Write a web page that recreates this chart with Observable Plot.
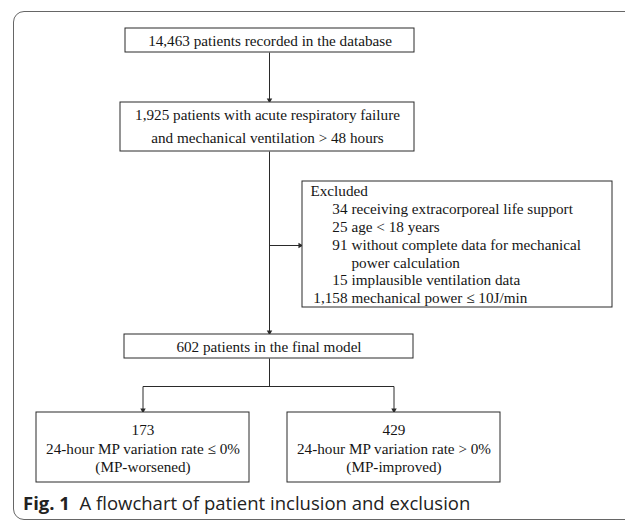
<!DOCTYPE html>
<html>
<head>
<meta charset="utf-8">
<script src="https://cdn.jsdelivr.net/npm/d3@7"></script>
<script src="https://cdn.jsdelivr.net/npm/@observablehq/plot@0.6"></script>
<style>
  html, body { margin: 0; padding: 0; background: #fff; }
  body { width: 625px; height: 520px; position: relative; overflow: hidden; }
  #frame { position: absolute; left: 13px; top: 11px; width: 700px; height: 507px;
           border: 1.5px solid #666; border-radius: 11px; pointer-events: none; }
  #chart { position: absolute; left: 0; top: 0; }
  #caption { position: absolute; left: 23px; top: 490px; font-family: "Open Sans", sans-serif;
             font-size: 18.5px; line-height: 25px; color: #222; white-space: nowrap; }
  #caption b { font-weight: 700; }
</style>
</head>
<body>
<div id="frame"></div>
<div id="chart"></div>
<div id="caption"><b>Fig. 1</b>&nbsp; A flowchart of patient inclusion and exclusion</div>
<script>
// ---------- data ----------
const recordedPatients = 14463;
const arfPatients = 1925;
const exclusionCounts = [34, 25, 91, 15, 1158];
const exclusionLabels = [
  ["receiving extracorporeal life support"],
  ["age < 18 years"],
  ["without complete data for mechanical", "power calculation"],
  ["implausible ventilation data"],
  ["mechanical power ≤ 10J/min"]
];
const finalPatients = 602;
const groupCounts = [173, 429];
const groupRates = ["24-hour MP variation rate ≤ 0%", "24-hour MP variation rate > 0%"];
const groupNames = ["(MP-worsened)", "(MP-improved)"];

// ---------- layout (pixel space of the 625-wide diagram) ----------
const fmt = d3.format(",");
const L = {
  top:    {x1: 125, x2: 414, y1: 28,  y2: 52},
  second: {x1: 120, x2: 414, y1: 102, y2: 151},
  excl:   {x1: 302, x2: 612, y1: 181, y2: 307},
  final:  {x1: 124, x2: 413, y1: 334, y2: 358},
  groups: [{x1: 36, x2: 249, y1: 412, y2: 482}, {x1: 287, x2: 500, y1: 412, y2: 482}],
  spineX: 269, branchY: 386, exclArrowY: 245,
  exclTitleY: 191, exclLine: 17.8, exclNumX: 347, exclTextX: 351, exclTitleX: 310
};
const cx = b => (b.x1 + b.x2) / 2;

const boxes = [L.top, L.second, L.excl, L.final, ...L.groups];

const links = [
  {x1: L.spineX, y1: L.top.y2, x2: L.spineX, y2: L.second.y1},
  {x1: L.spineX, y1: L.second.y2, x2: L.spineX, y2: L.final.y1},
  {x1: L.spineX, y1: L.exclArrowY, x2: L.excl.x1, y2: L.exclArrowY},
  {x1: L.spineX, y1: L.final.y2, x2: L.spineX, y2: L.branchY},
  {x1: cx(L.groups[0]), y1: L.branchY, x2: cx(L.groups[1]), y2: L.branchY},
  ...L.groups.map(g => ({x1: cx(g), y1: L.branchY, x2: cx(g), y2: g.y1}))
];
const heads = [
  {x: L.spineX, y: L.second.y1 - 2.5, rot: 180},
  {x: L.spineX, y: L.final.y1 - 2.5, rot: 180},
  {x: L.excl.x1 - 2.5, y: L.exclArrowY, rot: 90},
  ...L.groups.map(g => ({x: cx(g), y: g.y1 - 2.5, rot: 180}))
];

// centered texts
const centered = [
  {x: cx(L.top), y: 40.5, t: `${fmt(recordedPatients)} patients recorded in the database`},
  {x: cx(L.second), y: 115, t: `${fmt(arfPatients)} patients with acute respiratory failure`},
  {x: cx(L.second), y: 137.5, t: "and mechanical ventilation > 48 hours"},
  {x: cx(L.final), y: 346.5, t: `${fmt(finalPatients)} patients in the final model`}
];
groupCounts.forEach((n, i) => {
  const g = L.groups[i];
  centered.push({x: cx(g), y: 429.5, t: String(n)});
  centered.push({x: cx(g), y: 448.5, t: groupRates[i]});
  centered.push({x: cx(g), y: 467, t: groupNames[i]});
});

// exclusion list
const exclNums = [], exclTexts = [{x: L.exclTitleX, y: L.exclTitleY, t: "Excluded"}];
let row = 1;
exclusionCounts.forEach((n, i) => {
  exclNums.push({x: L.exclNumX, y: L.exclTitleY + row * L.exclLine, t: fmt(n)});
  exclusionLabels[i].forEach(line => {
    exclTexts.push({x: L.exclTextX, y: L.exclTitleY + row * L.exclLine, t: line});
    row++;
  });
});

const font = "Liberation Serif, Times New Roman, serif";
const ink = "#151515";
const fs = 15.2;

const plot = Plot.plot({
  width: 625, height: 490,
  margin: 0,
  x: {domain: [0, 625], range: [0, 625], axis: null},
  y: {domain: [0, 490], range: [0, 490], axis: null},
  style: {fontFamily: font, background: "transparent"},
  marks: [
    Plot.link(links, {x1: "x1", y1: "y1", x2: "x2", y2: "y2", stroke: "#2a2a2a", strokeWidth: 1}),
    Plot.dot(heads, {x: "x", y: "y", rotate: "rot", symbol: "triangle2", r: 2.6, fill: "#2a2a2a", stroke: "none"}),
    Plot.rect(boxes, {x1: "x1", x2: "x2", y1: "y1", y2: "y2", fill: "white", stroke: "#2a2a2a", strokeWidth: 1}),
    Plot.text(centered, {x: "x", y: "y", text: "t", fontSize: fs, fill: ink, fontFamily: font}),
    Plot.text(exclTexts, {x: "x", y: "y", text: "t", textAnchor: "start", fontSize: fs, fill: ink, fontFamily: font}),
    Plot.text(exclNums, {x: "x", y: "y", text: "t", textAnchor: "end", fontSize: fs, fill: ink, fontFamily: font})
  ]
});
document.getElementById("chart").append(plot);
</script>
</body>
</html>
